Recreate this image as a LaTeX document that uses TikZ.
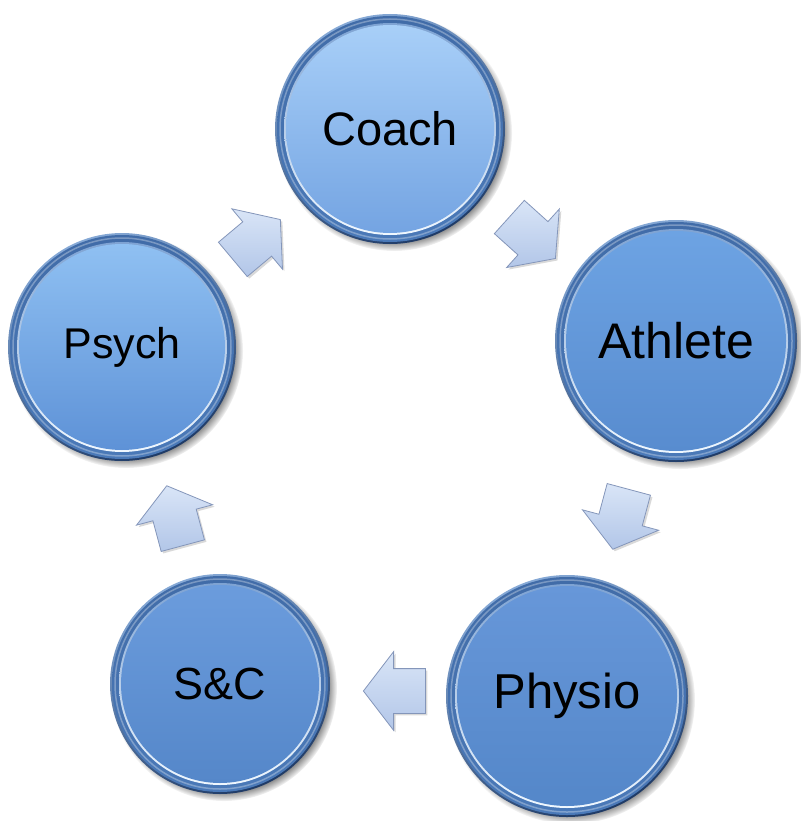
\documentclass[tikz,border=0pt]{standalone}
\usepackage{fontspec}
\setmainfont{Liberation Sans}
\usetikzlibrary{shapes,arrows,shadows,backgrounds,fadings}

% disc colours, one pair per station
\definecolor{coach-top}{HTML}{A8CFF8}
\definecolor{coach-bot}{HTML}{74A4E2}
\definecolor{athlete-top}{HTML}{6DA3E3}
\definecolor{athlete-bot}{HTML}{588CCF}
\definecolor{physio-top}{HTML}{6797D9}
\definecolor{physio-bot}{HTML}{5487C9}
\definecolor{sandc-top}{HTML}{6B9CDD}
\definecolor{sandc-bot}{HTML}{5587C9}
\definecolor{psych-top}{HTML}{8FC0F2}
\definecolor{psych-bot}{HTML}{5E92D7}
% bevel and block arrows
\definecolor{RimLight}{HTML}{86A9D6}
\definecolor{RimDark}{HTML}{1E3A66}
\definecolor{BandTop}{HTML}{416CA8}
\definecolor{BandBot}{HTML}{4A79B8}
\definecolor{LipTop}{HTML}{7EA3D3}
\definecolor{LipBot}{HTML}{F0F8FF}
\definecolor{FlowTop}{HTML}{D9E5F7}
\definecolor{FlowBot}{HTML}{B2C6E8}
\definecolor{FlowEdge}{HTML}{8496BA}

\begin{document}
\begin{tikzpicture}[x=1pt,y=-1pt]
	\tikzstyle{Disc} = [circle, inner sep=0pt, text=black]
	\tikzstyle{Shadow}= [fill=black, opacity=0.55, path fading=circle with fuzzy edge 10 percent]
	\tikzstyle{Rim}  = [top color=RimLight, bottom color=RimDark, shading angle=25]
	\tikzstyle{Band} = [top color=BandTop, bottom color=BandBot]
	\tikzstyle{Shine}= [draw=white, opacity=0.3, line width=1.5pt]
	\tikzstyle{Lip}  = [top color=LipTop, bottom color=LipBot]
	\tikzstyle{Flow} = [single arrow, single arrow head extend=17pt, single arrow tip angle=105,
	                    minimum height=62pt, inner xsep=0pt, inner ysep=22pt,
	                    draw=FlowEdge, line width=0.8pt, top color=FlowTop, bottom color=FlowBot,
	                    drop shadow={shadow xshift=2pt, shadow yshift=-2pt, opacity=0.3}]

	\useasboundingbox (0,0) rectangle (800,821);

	% the five stations
	\foreach \n/\x/\y/\r/\t/\s in {coach/390/129/115/Coach/47, athlete/676/341/121/Athlete/50,
	                               physio/567/696/121/Physio/49, sandc/220/684/110/S\&C/45,
	                               psych/122/347/114/Psych/43}
	{
		\pgfmathsetmacro\d{2*\r-22}
		\node (\n) at (\x,\y) [Disc, minimum size=\d pt, top color=\n-top, bottom color=\n-bot,
		                       font=\fontsize{\s}{\s}\selectfont] {\t};
		\begin{scope}[on background layer]
			\path[Shadow] ([shift={(4,4)}]\n.center) circle (\r pt + 3pt);
			\path[Rim] (\n.center) circle (\r pt);
			\path[Band] (\n.center) circle (\r pt - 2pt);
			\path[Shine] (\n.center) circle (\r pt - 5pt);
			\path[Lip] (\n.center) circle (\r pt - 9pt);
		\end{scope}
	}

	% block arrows round the cycle
	\foreach \n/\x/\y/\w in {ca/526/232/-42, ap/623/511/-105, ps/403/691/180, sp/177/524/105, pc/250/245/40}
		\node (\n) at (\x,\y) [Flow, rotate=\w] {};
\end{tikzpicture}
\end{document}
